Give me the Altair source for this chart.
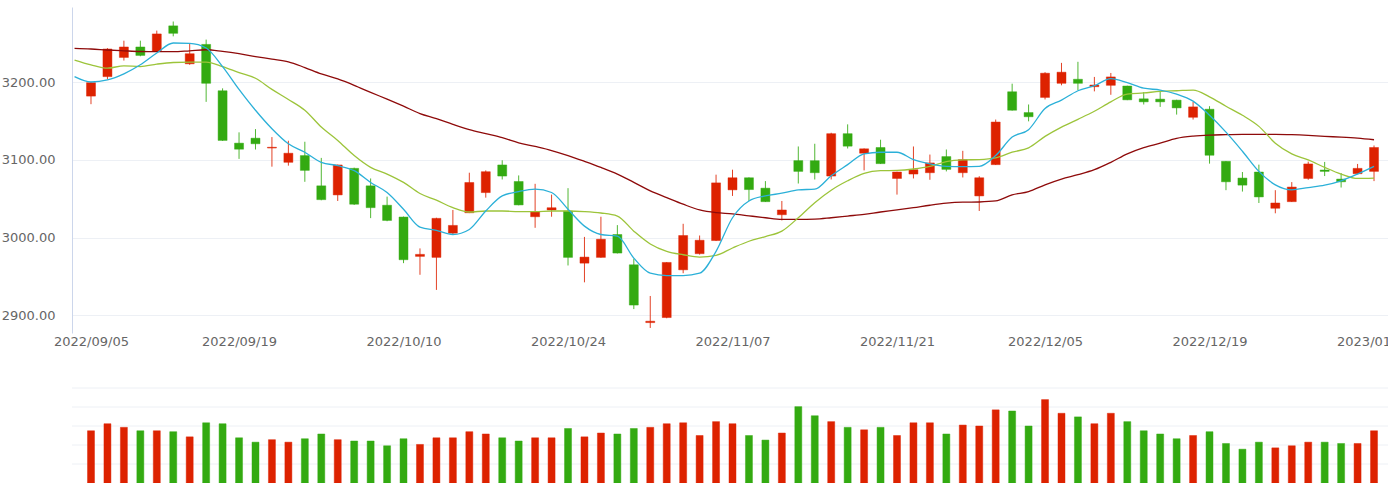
import altair as alt
import pandas as pd

# ---- data ----
dates = [
    "2022/09/05", "2022/09/06", "2022/09/07", "2022/09/08", "2022/09/09", "2022/09/13", "2022/09/14",
    "2022/09/15", "2022/09/16", "2022/09/19", "2022/09/20", "2022/09/21", "2022/09/22", "2022/09/23",
    "2022/09/26", "2022/09/27", "2022/09/28", "2022/09/29", "2022/09/30", "2022/10/10", "2022/10/11",
    "2022/10/12", "2022/10/13", "2022/10/14", "2022/10/17", "2022/10/18", "2022/10/19", "2022/10/20",
    "2022/10/21", "2022/10/24", "2022/10/25", "2022/10/26", "2022/10/27", "2022/10/28", "2022/10/31",
    "2022/11/01", "2022/11/02", "2022/11/03", "2022/11/04", "2022/11/07", "2022/11/08", "2022/11/09",
    "2022/11/10", "2022/11/11", "2022/11/14", "2022/11/15", "2022/11/16", "2022/11/17", "2022/11/18",
    "2022/11/21", "2022/11/22", "2022/11/23", "2022/11/24", "2022/11/25", "2022/11/28", "2022/11/29",
    "2022/12/01", "2022/12/02", "2022/12/05", "2022/12/06", "2022/12/07", "2022/12/08", "2022/12/09",
    "2022/12/12", "2022/12/13", "2022/12/14", "2022/12/15", "2022/12/16", "2022/12/19", "2022/12/20",
    "2022/12/21", "2022/12/22", "2022/12/23", "2022/12/26", "2022/12/27", "2022/12/28", "2022/12/29",
    "2022/12/30", "2023/01/03",
]

opens = [
    3182.2, 3207.3, 3232.0, 3245.5, 3239.7, 3272.7, 3223.8, 3248.8, 3189.1, 3121.6,
    3128.0, 3115.3, 3096.9, 3105.6, 3066.6, 3054.9, 3089.1, 3066.6, 3041.6, 3026.4,
    2975.7, 2974.4, 3005.6, 3031.9, 3057.9, 3093.5, 3072.2, 3026.8, 3035.5, 3034.2,
    2967.0, 2974.4, 3003.9, 2964.9, 2890.4, 2896.9, 2958.4, 2979.2, 2996.1, 3061.4,
    3077.0, 3063.6, 3029.4, 3099.1, 3099.0, 3079.2, 3133.8, 3108.6, 3116.0, 3076.1,
    3081.8, 3083.5, 3104.3, 3083.5, 3053.6, 3093.9, 3187.8, 3161.0, 3180.5, 3198.7,
    3203.9, 3194.3, 3196.1, 3195.2, 3178.7, 3178.3, 3177.0, 3154.9, 3165.3, 3098.2,
    3076.6, 3084.4, 3037.7, 3046.2, 3076.1, 3087.0, 3075.3, 3082.2, 3085.2,
]
highs = [
    3200.5, 3244.0, 3253.6, 3253.6, 3266.6, 3278.3, 3250.6, 3255.0, 3192.2, 3135.5,
    3139.7, 3129.4, 3124.7, 3123.4, 3102.6, 3094.0, 3090.0, 3076.1, 3052.7, 3027.0,
    2986.0, 3025.5, 3035.5, 3083.5, 3086.5, 3099.5, 3080.0, 3069.2, 3055.3, 3063.6,
    3000.8, 3026.8, 3016.0, 2972.7, 2924.7, 2968.3, 3017.7, 3002.6, 3081.0, 3087.4,
    3077.5, 3072.7, 3047.1, 3117.3, 3120.8, 3135.0, 3145.8, 3114.8, 3126.0, 3084.8,
    3117.3, 3106.9, 3113.4, 3111.7, 3079.0, 3152.0, 3198.2, 3171.4, 3213.0, 3225.0,
    3226.4, 3206.9, 3212.0, 3195.6, 3187.4, 3189.1, 3177.5, 3174.8, 3169.2, 3098.6,
    3084.4, 3093.9, 3061.0, 3071.4, 3097.8, 3097.4, 3083.1, 3094.8, 3118.6,
]
lows = [
    3171.8, 3203.9, 3228.0, 3233.5, 3238.9, 3259.2, 3222.5, 3174.8, 3124.5, 3101.3,
    3113.4, 3091.3, 3092.6, 3071.8, 3048.0, 3047.1, 3042.0, 3025.0, 3021.0, 2967.0,
    2952.0, 2932.5, 3004.5, 3031.5, 3051.4, 3074.8, 3041.5, 3012.5, 3026.8, 2964.0,
    2942.3, 2974.0, 2979.5, 2907.8, 2883.5, 2896.0, 2954.0, 2978.0, 2995.5, 3053.6,
    3047.0, 3045.8, 3022.0, 3069.6, 3074.8, 3074.8, 3114.7, 3086.5, 3094.8, 3055.3,
    3076.1, 3074.4, 3085.2, 3077.4, 3034.2, 3093.5, 3163.5, 3149.7, 3177.9, 3196.1,
    3190.0, 3188.3, 3183.9, 3177.0, 3171.4, 3168.3, 3158.4, 3152.0, 3095.2, 3061.0,
    3059.2, 3044.5, 3031.2, 3045.8, 3074.4, 3079.2, 3064.4, 3081.8, 3072.7,
]
closes = [
    3199.5, 3242.9, 3245.5, 3234.6, 3262.3, 3263.1, 3236.8, 3198.7, 3125.1, 3113.8,
    3120.8, 3116.3, 3108.6, 3086.5, 3048.8, 3093.5, 3042.9, 3038.5, 3022.0, 2971.4,
    2978.3, 3024.7, 3015.6, 3070.9, 3084.8, 3079.2, 3042.0, 3033.3, 3038.4, 2974.4,
    2974.8, 2997.8, 2980.0, 2913.0, 2892.2, 2967.9, 3002.6, 2996.5, 3070.4, 3077.0,
    3061.8, 3046.2, 3035.5, 3085.2, 3083.5, 3133.8, 3117.7, 3114.3, 3095.2, 3084.4,
    3087.4, 3096.1, 3087.8, 3100.4, 3077.0, 3148.8, 3164.0, 3155.6, 3211.7, 3213.0,
    3198.7, 3196.5, 3206.9, 3177.4, 3174.8, 3174.8, 3167.0, 3168.3, 3106.0, 3071.8,
    3067.5, 3052.3, 3044.5, 3065.0, 3094.8, 3085.2, 3071.8, 3089.1, 3116.0,
]
volumes = [
    275, 312, 293, 275, 275, 270, 243, 317, 312, 238,
    215, 228, 215, 233, 258, 228, 221, 221, 196, 233,
    203, 238, 238, 270, 258, 238, 221, 238, 238, 287,
    243, 263, 258, 287, 293, 312, 317, 250, 323, 312,
    250, 226, 263, 402, 354, 323, 293, 280, 293, 250,
    317, 317, 258, 305, 300, 385, 379, 300, 439, 367,
    348, 312, 367, 323, 275, 258, 233, 250, 270, 208,
    178, 215, 185, 196, 215, 215, 208, 208, 275,
]

# moving averages, starting one session before the first visible candle
ma_index = list(range(-1, 79))
ma5 = [
    3207.3, 3200.4, 3203.0, 3210.8, 3222.5, 3237.7, 3250.6, 3250.2, 3244.2, 3220.3,
    3190.9, 3164.0, 3140.2, 3120.8, 3109.9, 3096.9, 3092.6, 3086.1, 3071.0, 3058.0,
    3036.4, 3013.4, 3009.1, 3003.9, 3010.4, 3034.2, 3053.6, 3059.2, 3062.3, 3058.0,
    3036.4, 3014.7, 3003.9, 3001.7, 2973.5, 2954.0, 2951.0, 2951.0, 2954.0, 2982.2,
    3025.5, 3047.1, 3053.6, 3057.1, 3061.4, 3062.3, 3079.6, 3093.9, 3107.8, 3109.9,
    3109.9, 3100.4, 3094.8, 3091.7, 3091.3, 3091.7, 3105.6, 3129.4, 3139.0, 3166.2,
    3177.0, 3189.1, 3195.6, 3204.7, 3199.5, 3192.4, 3190.0, 3184.8, 3175.7, 3157.5,
    3135.8, 3111.2, 3085.2, 3067.9, 3061.4, 3064.4, 3067.5, 3073.1, 3081.8, 3091.7,
]
ma10 = [
    3228.7, 3222.5, 3218.2, 3221.2, 3220.3, 3223.4, 3225.5, 3226.0, 3226.0, 3220.3,
    3212.5, 3205.2, 3190.9, 3177.9, 3164.0, 3142.3, 3125.1, 3105.6, 3090.4, 3081.8,
    3071.0, 3056.7, 3048.1, 3038.6, 3032.9, 3034.2, 3034.2, 3033.4, 3033.4, 3034.2,
    3034.2, 3033.4, 3031.6, 3027.7, 3008.2, 2991.7, 2982.2, 2977.8, 2974.8, 2977.0,
    2986.5, 2995.2, 3001.3, 3008.2, 3025.5, 3044.9, 3061.0, 3073.1, 3082.6, 3086.1,
    3086.5, 3088.3, 3091.7, 3097.8, 3100.0, 3100.4, 3102.6, 3109.9, 3115.6, 3130.3,
    3142.3, 3152.3, 3162.7, 3174.8, 3184.8, 3186.3, 3188.3, 3189.1, 3190.0, 3181.3,
    3169.2, 3157.5, 3143.2, 3121.6, 3107.8, 3100.0, 3090.4, 3081.8, 3076.1, 3076.6,
]
ma20 = [
    3243.6, 3242.9, 3241.6, 3240.6, 3239.7, 3239.4, 3239.4, 3240.6, 3241.9, 3239.7,
    3236.8, 3233.2, 3229.9, 3226.4, 3219.0, 3210.8, 3204.3, 3196.1, 3187.0, 3178.3,
    3169.2, 3159.7, 3153.2, 3145.8, 3139.0, 3133.8, 3128.6, 3122.1, 3117.3, 3112.1,
    3105.6, 3098.2, 3090.4, 3081.8, 3071.0, 3060.1, 3051.4, 3042.9, 3035.5, 3032.0,
    3030.6, 3028.0, 3025.5, 3023.4, 3023.4, 3023.7, 3025.5, 3027.7, 3029.9, 3032.9,
    3035.5, 3038.4, 3041.6, 3044.2, 3045.5, 3045.8, 3047.1, 3054.9, 3059.2, 3067.9,
    3075.3, 3080.9, 3087.4, 3096.9, 3107.8, 3115.8, 3121.6, 3127.7, 3130.6, 3132.0,
    3132.5, 3132.9, 3132.9, 3132.9, 3132.5, 3131.6, 3130.3, 3129.4, 3128.1, 3126.0,
]

label_idx = [0, 9, 19, 29, 39, 49, 58, 68, 78]
price_ticks = [2900, 3000, 3100, 3200]
volume_ticks = [100, 200, 300, 400, 500]

# ---- styling / layout ----
RED = "#dd2200"
GREEN = "#33aa11"
C_MA5 = "#2bb0d8"
C_MA10 = "#9cc43a"
C_MA20 = "#8e0a0a"
GRID = "#edf0f5"
AXIS = "#ccd6eb"
LABEL = "#666666"
FONT = "DejaVu Sans"

W, H = 1316, 476          # whole plot area (price panel on top, volume panel below)
PRICE_H = 326             # price panel height
VOL_TOP, VOL_BOTTOM = 381, 476

candles = pd.DataFrame({
    "idx": list(range(len(dates))),
    "date": dates,
    "open": opens,
    "high": highs,
    "low": lows,
    "close": closes,
    "volume": volumes,
})
candles["dir"] = ["up" if c >= o else "down" for o, c in zip(opens, closes)]

mas = pd.DataFrame({"idx": ma_index, "ma5": ma5, "ma10": ma10, "ma20": ma20})
vgrid = pd.DataFrame({"v": volume_ticks})

label_js = "[" + ",".join("'" + d + "'" for d in dates) + "]"

x_scale = alt.Scale(domain=[-1.155, 78.85], nice=False, zero=False, padding=0)
x_axis = alt.Axis(
    values=label_idx, labelExpr=label_js + "[datum.value]", grid=False, ticks=False,
    domain=False, title=None, labelFont=FONT, labelFontSize=13, labelColor=LABEL,
    labelPadding=2, labelFlush=False, labelOverlap=False, offset=PRICE_H - H,
)
y_scale = alt.Scale(domain=[2877, 3297], nice=False, zero=False, padding=0, range=[PRICE_H, 0])
y_axis = alt.Axis(
    values=price_ticks, format=".2f", title=None, ticks=False, grid=True, gridColor=GRID,
    gridWidth=1, domain=True, domainColor=AXIS, domainWidth=1, labelFont=FONT,
    labelFontSize=13, labelColor=LABEL, labelPadding=17,
)
v_scale = alt.Scale(domain=[0, 500], nice=False, zero=True, padding=0, range=[VOL_BOTTOM, VOL_TOP])
col_scale = alt.Scale(domain=["up", "down"], range=[RED, GREEN])

base = alt.Chart(candles)

wicks = base.mark_rule(strokeWidth=1, opacity=0.85).encode(
    x=alt.X("idx:Q", scale=x_scale, axis=x_axis),
    y=alt.Y("low:Q", scale=y_scale, axis=y_axis),
    y2="high:Q",
    color=alt.Color("dir:N", scale=col_scale, legend=None),
)
bodies = base.mark_bar(size=9, strokeWidth=1, strokeOpacity=0.45).encode(
    x=alt.X("idx:Q", scale=x_scale, axis=x_axis),
    y=alt.Y("open:Q", scale=y_scale, axis=y_axis),
    y2="close:Q",
    color=alt.Color("dir:N", scale=col_scale, legend=None),
    stroke=alt.Stroke("dir:N", scale=col_scale, legend=None),
)

lines = []
for field, col in [("ma20", C_MA20), ("ma10", C_MA10), ("ma5", C_MA5)]:
    lines.append(
        alt.Chart(mas).mark_line(color=col, strokeWidth=1.3, interpolate="monotone").encode(
            x=alt.X("idx:Q", scale=x_scale, axis=x_axis),
            y=alt.Y(field + ":Q", scale=y_scale, axis=y_axis),
        )
    )

price = alt.layer(wicks, bodies, *lines)

vol_grid = alt.Chart(vgrid).mark_rule(color=GRID, strokeWidth=1).encode(
    y=alt.Y("v:Q", scale=v_scale, axis=None),
)
vol_bars = base.mark_bar(size=7, strokeWidth=1, strokeOpacity=0.45).encode(
    x=alt.X("idx:Q", scale=x_scale, axis=x_axis),
    y=alt.Y("volume:Q", scale=v_scale, axis=None),
    color=alt.Color("dir:N", scale=col_scale, legend=None),
    stroke=alt.Stroke("dir:N", scale=col_scale, legend=None),
)
volume = alt.layer(vol_grid, vol_bars)

chart = alt.layer(price, volume).resolve_scale(y="independent").properties(
    width=W, height=H,
    autosize=alt.AutoSizeParams(type="none"),
    padding={"left": 72, "top": 7, "right": 0, "bottom": 0},
    background="white",
).configure_view(stroke=None)

chart.save("out.html", embed_options={"renderer": "svg", "actions": False})
